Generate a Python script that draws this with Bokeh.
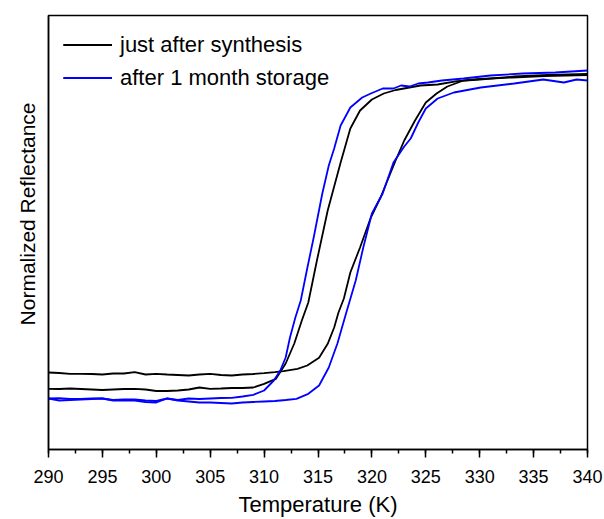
from bokeh.plotting import figure
from bokeh.models import Range1d, SingleIntervalTicker, FixedTicker, Title
from bokeh.embed import file_html
from bokeh.resources import INLINE

# ---- data ----
# just after synthesis, heating branch (higher transition T)
t_black_heat = [290, 291, 292, 293, 294, 295, 296, 297, 298, 299, 300, 301, 302, 303, 304, 305,
                306, 307, 308, 309, 310, 311, 311.8, 313.1, 314, 315.1, 315.9, 316.5, 316.9, 317.4,
                318, 318.9, 319.9, 320.8, 322.2, 323, 324, 325, 326, 327, 328.5, 330, 333, 336, 340]
r_black_heat = [77, 76.5, 75.7, 75.7, 75.5, 75, 76, 76, 77.3, 75, 75.7, 75, 74.5, 74, 75, 75.7,
                74.5, 74, 75, 75.5, 76.3, 77.3, 78.3, 80.7, 84, 91.7, 105.7, 122, 137, 151,
                177, 202, 232, 252, 289, 309, 329, 347, 356, 363, 369, 370.5, 372, 373.5, 374.5]

# just after synthesis, cooling branch (lower transition T)
t_black_cool = [290, 291, 292, 293, 294, 295, 296, 297, 298, 299, 300, 301, 302, 303, 304, 305,
                306, 307, 308, 309, 310, 311.1, 312, 312.8, 313.5, 314.1, 314.9, 315.9, 317.1, 318,
                318.9, 320, 321.1, 322.2, 324.5, 326.1, 327.9, 330, 333.2, 336.3, 340]
r_black_cool = [60.7, 60.5, 61, 60.5, 60, 59.5, 60, 60.5, 60.7, 60, 58.5, 58.5, 59, 60, 62, 60.7,
                61, 61.5, 61.5, 62, 65.7, 70.7, 86, 106, 129, 147, 189, 239, 287, 321,
                339, 350, 356, 359.5, 364, 365, 368.3, 370, 373, 374.7, 375.7]

# after 1 month storage, cooling branch
t_blue_cool = [290, 291, 292, 293, 294, 295, 296, 297, 298, 299, 300, 301, 302, 303, 304, 305,
               306, 307, 308, 309, 310, 310.9, 311.5, 312, 312.4, 312.9, 313.4, 314, 314.6, 315.4,
               316, 316.5, 317.1, 318, 319.1, 319.9, 321, 322, 322.7, 323.5, 324.3, 325.2, 326.5,
               328.5, 331, 334, 337, 340]
r_blue_cool = [51, 51.3, 50.5, 50.5, 51, 51, 49.5, 50, 50, 49, 48.5, 51, 49.5, 51, 50.5, 51,
               51.5, 51.7, 53, 54.7, 59, 69, 79, 92, 112, 132, 149, 181, 212, 256,
               284, 301, 324, 342, 352, 356, 361, 361, 364, 363, 366, 367, 369,
               371, 374, 376, 377, 379]

# after 1 month storage, heating branch
t_blue_heat = [290, 291, 292, 293, 294, 295, 296, 297, 298, 299, 300, 301, 302, 303, 304, 305,
               306, 307, 308, 309, 310, 311, 312, 313, 314.1, 315.1, 316, 316.8, 317.6, 318.5,
               319.2, 320, 321, 322, 323, 323.6, 324.3, 325, 326.1, 327.6, 330.1, 333.2, 335.9,
               337.8, 339, 340]
r_blue_heat = [51, 49, 49.5, 50, 50.5, 51, 49, 49, 49, 47.5, 47, 51, 49, 48, 47, 47,
               46.5, 46, 47, 47.5, 48, 48.5, 49.5, 50.7, 55.7, 64, 82, 106, 136, 169,
               202, 236, 256, 287, 303, 311, 327, 341, 351, 357, 362, 366, 370,
               367, 370, 369]

labels = ["just after synthesis", "after 1 month storage"]
colors = ["#000000", "#0000ff"]

FONT = "Liberation Sans"

p = figure(width=604, height=519, output_backend="svg", toolbar_location=None,
           min_border_left=48, min_border_right=17, min_border_top=15, min_border_bottom=70,
           x_range=Range1d(290, 340), y_range=Range1d(0, 434))
p.background_fill_color = "white"
p.border_fill_color = "white"
p.outline_line_color = "black"
p.outline_line_width = 1.5
p.xgrid.grid_line_color = None
p.ygrid.grid_line_color = None

p.line(t_black_cool, r_black_cool, line_color=colors[0], line_width=1.8, legend_label=labels[0])
p.line(t_black_heat, r_black_heat, line_color=colors[0], line_width=1.8, legend_label=labels[0])
p.line(t_blue_cool, r_blue_cool, line_color=colors[1], line_width=1.8, legend_label=labels[1])
p.line(t_blue_heat, r_blue_heat, line_color=colors[1], line_width=1.8, legend_label=labels[1])

xa = p.xaxis[0]
xa.ticker = SingleIntervalTicker(interval=5, num_minor_ticks=2)
xa.axis_label = "Temperature (K)"
xa.axis_label_text_font = FONT
xa.axis_label_text_font_size = "22px"
xa.axis_label_text_font_style = "normal"
xa.axis_label_text_color = "black"
xa.axis_label_standoff = 6
xa.major_label_text_font = FONT
xa.major_label_text_font_size = "18px"
xa.major_label_text_color = "black"
xa.major_label_standoff = 12
xa.axis_line_width = 1.5
xa.major_tick_in = 0
xa.major_tick_out = 8
xa.minor_tick_in = 0
xa.minor_tick_out = 4
xa.major_tick_line_width = 1.5
xa.minor_tick_line_width = 1.5

ya = p.yaxis[0]
ya.ticker = FixedTicker(ticks=[])
ya.major_tick_out = 0
ya.minor_tick_out = 0
ya.axis_line_width = 1.5

ylab = Title(text="Normalized Reflectance", align="right", offset=87,
             text_font=FONT, text_font_size="21px", text_font_style="normal",
             text_color="black", standoff=20)
p.add_layout(ylab, "left")

lg = p.legend[0]
lg.location = "top_left"
lg.border_line_color = None
lg.background_fill_alpha = 0
lg.label_text_font = FONT
lg.label_text_font_size = "22px"
lg.label_text_color = "black"
lg.glyph_width = 49
lg.glyph_height = 29
lg.label_height = 29
lg.label_standoff = 8
lg.spacing = 4
lg.padding = 0
lg.margin = 15

open("out.html", "w").write(file_html(p, INLINE))
